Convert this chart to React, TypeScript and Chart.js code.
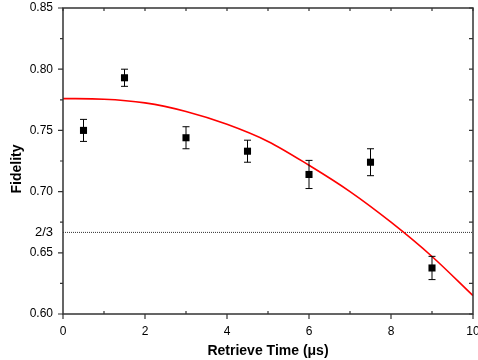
import React, { useEffect, useRef } from 'react';
import { Chart, registerables } from 'chart.js';

Chart.register(...registerables);

// Measured data (retrieve time in µs, fidelity)
const timeValues = [0.5, 1.5, 3, 4.5, 6, 7.5, 9];
const fidelityValues = [0.75, 0.793, 0.744, 0.733, 0.714, 0.724, 0.6376];
const fidelityErrors = [0.009, 0.007, 0.009, 0.009, 0.0115, 0.011, 0.0095];

// Fit curve
const fitTimes = [0, 1, 2, 3, 4, 5, 6, 7, 8, 9, 10];
const fitValues = [0.776, 0.7755, 0.7725, 0.7655, 0.755, 0.741, 0.7215, 0.7, 0.675, 0.647, 0.615];

// Classical limit
const classicalLimit = 2 / 3;
const limitTimes = [0, 10];

// Ticks
const xMajorTicks = [0, 2, 4, 6, 8, 10];
const xMinorTicks = [1, 3, 5, 7, 9];
const yMajorTicks = [0.6, 0.65, 0.7, 0.75, 0.8, 0.85];
const yMinorTicks = [0.625, 0.675, 0.725, 0.775, 0.825];

const FONT = '"Liberation Sans", Arial, Helvetica, sans-serif';

const decorPlugin = {
  id: 'decor',
  afterDatasetsDraw(chart: any) {
    const ctx = chart.ctx;
    const xs = chart.scales.x;
    const ys = chart.scales.y;
    ctx.save();
    ctx.strokeStyle = '#000';
    ctx.lineWidth = 1;
    timeValues.forEach((t, i) => {
      const px = xs.getPixelForValue(t);
      const top = ys.getPixelForValue(fidelityValues[i] + fidelityErrors[i]);
      const bot = ys.getPixelForValue(fidelityValues[i] - fidelityErrors[i]);
      ctx.beginPath();
      ctx.moveTo(px, top);
      ctx.lineTo(px, bot);
      ctx.moveTo(px - 3.5, top);
      ctx.lineTo(px + 3.5, top);
      ctx.moveTo(px - 3.5, bot);
      ctx.lineTo(px + 3.5, bot);
      ctx.stroke();
    });
    ctx.restore();
  },
  afterDraw(chart: any) {
    const ctx = chart.ctx;
    const { left, right, top, bottom } = chart.chartArea;
    const xs = chart.scales.x;
    const ys = chart.scales.y;
    ctx.save();
    ctx.strokeStyle = '#333';
    ctx.lineWidth = 1.5;
    ctx.strokeRect(left, top, right - left, bottom - top);
    ctx.lineWidth = 1.2;
    ctx.beginPath();
    xMajorTicks.forEach((v) => {
      const px = xs.getPixelForValue(v);
      ctx.moveTo(px, bottom);
      ctx.lineTo(px, bottom + 5);
      ctx.moveTo(px, top);
      ctx.lineTo(px, top + 3);
    });
    xMinorTicks.forEach((v) => {
      const px = xs.getPixelForValue(v);
      ctx.moveTo(px, bottom);
      ctx.lineTo(px, bottom - 3);
      ctx.moveTo(px, top);
      ctx.lineTo(px, top + 3);
    });
    yMajorTicks.forEach((v) => {
      const py = ys.getPixelForValue(v);
      ctx.moveTo(left, py);
      ctx.lineTo(left - 5, py);
      ctx.moveTo(right, py);
      ctx.lineTo(right - 4, py);
    });
    yMinorTicks.forEach((v) => {
      const py = ys.getPixelForValue(v);
      ctx.moveTo(left, py);
      ctx.lineTo(left - 3, py);
      ctx.moveTo(right, py);
      ctx.lineTo(right - 4, py);
    });
    ctx.stroke();

    // Y axis title
    ctx.translate(17, (top + bottom) / 2 + 8);
    ctx.rotate(-Math.PI / 2);
    ctx.fillStyle = '#000';
    ctx.font = `bold 14px ${FONT}`;
    ctx.textAlign = 'center';
    ctx.textBaseline = 'middle';
    ctx.fillText('Fidelity', 0, 0);
    ctx.restore();
  },
};

export default function App() {
  const canvasRef = useRef<HTMLCanvasElement | null>(null);

  useEffect(() => {
    if (!canvasRef.current) return;
    const chart = new Chart(canvasRef.current, {
      type: 'scatter',
      data: {
        datasets: [
          {
            label: 'Points',
            data: timeValues.map((t, i) => ({ x: t, y: fidelityValues[i] })),
            pointStyle: 'rect',
            pointRadius: 5,
            pointHoverRadius: 5,
            backgroundColor: '#000',
            borderColor: '#000',
            borderWidth: 0,
            showLine: false,
            order: 0,
          },
          {
            label: 'Fit',
            data: fitTimes.map((t, i) => ({ x: t, y: fitValues[i] })),
            showLine: true,
            borderColor: '#ff0000',
            borderWidth: 1.6,
            pointRadius: 0,
            cubicInterpolationMode: 'monotone',
            order: 1,
          },
          {
            label: '2/3',
            data: limitTimes.map((t) => ({ x: t, y: classicalLimit })),
            showLine: true,
            borderColor: '#333',
            borderWidth: 1,
            borderDash: [1, 1],
            pointRadius: 0,
            order: 2,
          },
        ] as any,
      },
      options: {
        animation: false,
        responsive: false,
        layout: { padding: { top: 8, right: 0, left: 0, bottom: 0 } },
        plugins: {
          legend: { display: false },
          tooltip: { enabled: false },
        },
        scales: {
          x: {
            type: 'linear',
            min: 0,
            max: 10,
            grid: { display: false, drawTicks: false },
            border: { display: false },
            afterBuildTicks: (scale: any) => {
              scale.ticks = xMajorTicks.map((v) => ({ value: v }));
            },
            ticks: {
              autoSkip: false,
              maxRotation: 0,
              padding: 10,
              color: '#000',
              font: { family: FONT, size: 12 },
              callback: (v: any) => String(v),
            },
            afterFit: (scale: any) => {
              scale.height = 46;
              scale.paddingLeft = 0;
              scale.paddingRight = 0;
            },
            title: {
              display: true,
              text: 'Retrieve Time (\u03bcs)',
              color: '#000',
              font: { family: FONT, size: 14, weight: 'bold' },
              padding: { top: 0, bottom: 0 },
            },
          },
          y: {
            type: 'linear',
            min: 0.6,
            max: 0.85,
            grid: { display: false, drawTicks: false },
            border: { display: false },
            afterBuildTicks: (scale: any) => {
              scale.ticks = [...yMajorTicks, classicalLimit]
                .sort((a, b) => a - b)
                .map((v) => ({ value: v }));
            },
            ticks: {
              autoSkip: false,
              padding: 10,
              color: '#000',
              font: (c: any) =>
                c.tick && Math.abs(c.tick.value - classicalLimit) < 1e-9
                  ? { family: FONT, size: 13 }
                  : { family: FONT, size: 12 },
              callback: (v: any) =>
                Math.abs(v - classicalLimit) < 1e-9 ? '2/3' : Number(v).toFixed(2),
            },
            afterFit: (scale: any) => {
              scale.width = 63;
              scale.paddingTop = 0;
              scale.paddingBottom = 0;
            },
          },
        },
      } as any,
      plugins: [decorPlugin],
    });
    return () => chart.destroy();
  }, []);

  return (
    <div style={{ position: 'absolute', left: 0, top: 0, width: 478, height: 360, background: '#fff' }}>
      <canvas ref={canvasRef} width={478} height={360} style={{ display: 'block' }} />
    </div>
  );
}
